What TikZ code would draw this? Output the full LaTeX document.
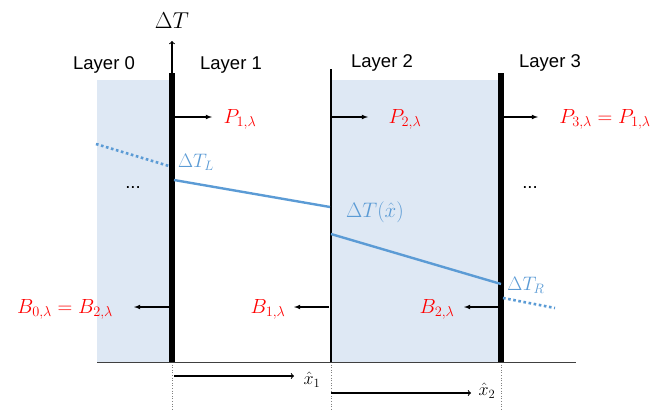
\documentclass[tikz,border=0pt]{standalone}
\usepackage{fix-cm}
\usepackage{amsmath}
\usepackage[no-math]{fontspec}
\newfontfamily\layerfont{Liberation Sans}
\usepackage{tikz}
\usetikzlibrary{arrows}
\definecolor{layerblue}{HTML}{DEE8F4}
\definecolor{tempblue}{HTML}{5B9BD5}

\begin{document}
\begin{tikzpicture}[x=1pt,y=-1pt]
	\tikzstyle{wall}=[line width=5.5pt]
	\tikzstyle{thinwall}=[line width=2.2pt]
	\tikzstyle{guide}=[gray, dotted, line width=0.6pt]
	\tikzstyle{ground}=[black!75, line width=1pt]
	\tikzstyle{flux}=[-latex, line width=1.1pt]
	\tikzstyle{axis}=[->, line width=1.1pt]
	\tikzstyle{temp}=[draw=tempblue, line width=2.4pt]
	\tikzstyle{tempdot}=[draw=tempblue, line width=2.6pt, dash pattern=on 2.6pt off 2.6pt]
	\tikzstyle{layer}=[font=\fontsize{18.5}{22}\selectfont\layerfont]
	\tikzstyle{rad}=[text=red, font=\fontsize{20.5}{24}\selectfont]
	\tikzstyle{tlabel}=[text=tempblue, font=\fontsize{19.5}{23}\selectfont]
	\useasboundingbox (0,0) rectangle (670,410);

	% Layers
	\fill[layerblue] (97,80) rectangle (172,362);
	\fill[layerblue] (331,80) rectangle (500,362);

	% Walls
	\foreach \n/\x/\t in {1/172/73, 2/331/69, 3/501/73} {
		\coordinate (top_\n) at (\x,\t);
		\coordinate (bot_\n) at (\x,362);
		\coordinate (foot_\n) at (\x,410);
	}
	\foreach \n in {1,2,3}
		\draw[guide] (bot_\n) -- (foot_\n);
	\coordinate (base_l) at (97,362);
	\coordinate (base_r) at (576,362);
	\draw[ground] (base_l) -- (base_r);
	\draw[wall] (top_1) -- (bot_1);
	\draw[thinwall] (top_2) -- (bot_2);
	\draw[wall] (top_3) -- (bot_3);

	% Axis
	\coordinate (axis_tip) at (172,41);
	\draw[axis] (top_1) -- (axis_tip);
	\node[font=\fontsize{23}{27}\selectfont] (dT) at (172,21) {$\Delta T$};

	% Radiation leaving to the right
	\foreach \n/\xa/\xb in {1/175/212, 2/332/368, 3/504/538} {
		\coordinate (ps_\n) at (\xa,117);
		\coordinate (pe_\n) at (\xb,117);
		\draw[flux] (ps_\n) -- (pe_\n);
	}
	\node[rad] (P_1) at (240,119) {$P_{1,\lambda}$};
	\node[rad] (P_2) at (405,119) {$P_{2,\lambda}$};
	\node[rad] (P_3) at (605,119) {$P_{3,\lambda} = P_{1,\lambda}$};

	% Radiation leaving to the left
	\foreach \n/\xa/\xb in {0/169/134, 1/329/294, 2/498/464} {
		\coordinate (bs_\n) at (\xa,307);
		\coordinate (be_\n) at (\xb,307);
		\draw[flux] (bs_\n) -- (be_\n);
	}
	\node[rad] (B_0) at (65,309) {$B_{0,\lambda} = B_{2,\lambda}$};
	\node[rad] (B_1) at (268,309) {$B_{1,\lambda}$};
	\node[rad] (B_2) at (437,309) {$B_{2,\lambda}$};

	% Temperature profile
	\coordinate (t0_a) at (96,144);
	\coordinate (t0_b) at (169,166);
	\coordinate (t1_a) at (174,180);
	\coordinate (t1_b) at (330,207);
	\coordinate (t2_a) at (331,234);
	\coordinate (t2_b) at (501,284);
	\coordinate (t3_a) at (503,298);
	\coordinate (t3_b) at (555,308);
	\draw[tempdot] (t0_a) -- (t0_b);
	\draw[temp] (t1_a) -- (t1_b);
	\draw[temp] (t2_a) -- (t2_b);
	\draw[tempdot] (t3_a) -- (t3_b);
	\node[tlabel] (dT_L) at (196,162) {$\Delta T_L$};
	\node[tlabel, font=\fontsize{21}{25}\selectfont] (dT_x) at (375,212) {$\Delta T(\hat{x})$};
	\node[tlabel] (dT_R) at (526,285) {$\Delta T_R$};

	% Local coordinates
	\coordinate (x1_s) at (174,376);
	\coordinate (x1_e) at (294,376);
	\coordinate (x2_s) at (331,393);
	\coordinate (x2_e) at (471,393);
	\draw[axis] (x1_s) -- (x1_e);
	\draw[axis] (x2_s) -- (x2_e);
	\node[font=\fontsize{18}{22}\selectfont] (xh_1) at (312,380) {$\hat{x}_1$};
	\node[font=\fontsize{18}{22}\selectfont] (xh_2) at (487,391) {$\hat{x}_2$};

	% Text
	\node[layer] (L_0) at (104,65) {Layer 0};
	\node[layer] (L_1) at (231,65) {Layer 1};
	\node[layer] (L_2) at (382,63) {Layer 2};
	\node[layer] (L_3) at (550,63) {Layer 3};
	\node[layer] (dots_0) at (133,188) {...};
	\node[layer] (dots_3) at (530,188) {...};
\end{tikzpicture}
\end{document}
